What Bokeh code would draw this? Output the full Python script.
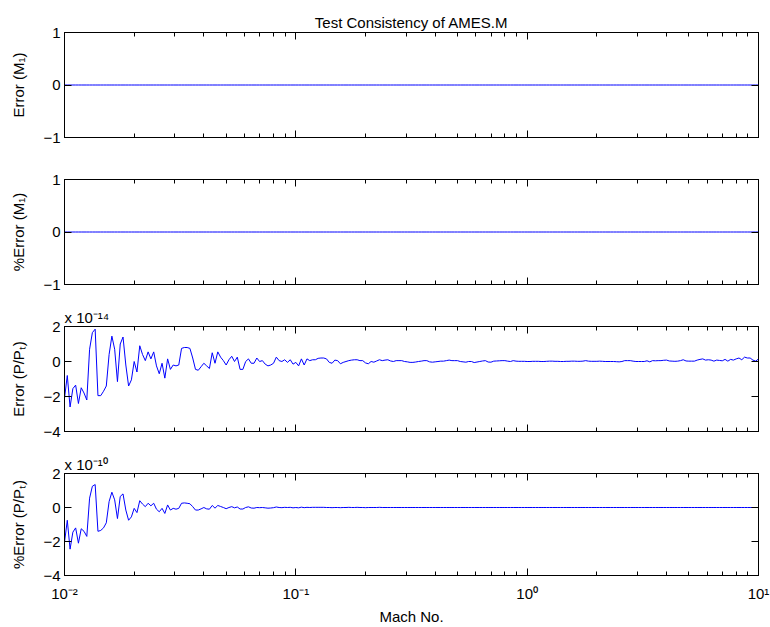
import numpy as np
from bokeh.plotting import figure
from bokeh.layouts import column
from bokeh.models import (Range1d, FixedTicker, LinearAxis, LogAxis,
                          CustomJSTickFormatter, ColumnDataSource)
from bokeh.embed import file_html
from bokeh.resources import INLINE

FONT = "Liberation Sans"

# ---------------- data ----------------
N_POINTS = 250
mach = np.logspace(-2, 1, N_POINTS)          # Mach number sampling grid

# Error (P/Pt), in units of 1e-14
err_ppt = [
    -2.1, -0.8, -2.6, -1.55, -1.35, -2.4, -1.5, -1.8, -2.2, 0.7,
    1.65, 1.85, -1.95, -1.95, -1.7, -1.4, 0.4, 1.45, 0.7, -1.15,
    1.0, 1.4, -0.2, -1.4, -1.05, 0.0, -0.6, 0.9, 0.4, 0.05,
    0.55, 0.15, 0.55, -0.25, -0.7, -0.1, -0.95, 0.15, -0.45, -0.2,
    -0.25, -0.2, 0.75, 0.8, 0.8, 0.75, 0.2, -0.45, -0.5, -0.3,
    -0.1, -0.25, -0.4, 0.5, -0.1, 0.55, 0.25, 0.05, -0.2, 0.1,
    0.3, 0.0, 0.25, -0.45, -0.45, 0.0, 0.15, -0.1, -0.1, 0.2,
    0.0, 0.05, -0.15, -0.25, -0.2, -0.1, 0.25, 0.05, 0.0, 0.1,
    -0.05, 0.1, -0.15, -0.05, -0.25, 0.15, -0.2, 0.15, 0.05, 0.1,
    0.1, 0.18, 0.2, 0.2, 0.15, -0.05, -0.1, 0.08, 0.05, -0.13,
    -0.05, 0.0, 0.05, 0.08, 0.1, 0.1, 0.05, 0.05, -0.08, -0.13,
    0.0, -0.04, 0.03, 0.1, 0.05, 0.08, 0.1, 0.03, 0.0, 0.05,
    0.05, 0.05, 0.0, -0.02, -0.05, -0.05, -0.03, 0.0, 0.02, 0.05,
    0.05, -0.02, -0.04, -0.02, 0.0, 0.02, 0.02, 0.05, 0.08, 0.05,
    0.05, 0.05, 0.0, -0.02, -0.04, 0.0, 0.0, -0.06, -0.03, 0.0,
    0.03, 0.05, -0.03, -0.04, 0.02, 0.03, 0.04, 0.05, 0.05, 0.02,
    0.0, 0.05, 0.02, 0.01, 0.01, 0.01, 0.0, 0.0, 0.01, 0.01,
    0.01, 0.0, 0.0, 0.01, 0.02, 0.02, 0.01, 0.01, 0.0, 0.0,
    0.01, 0.01, 0.02, 0.02, 0.01, 0.01, 0.02, 0.05, 0.02, 0.01,
    0.01, 0.01, 0.02, 0.01, 0.0, 0.0, 0.0, 0.0, -0.01, -0.02,
    0.0, 0.05, 0.05, 0.05, 0.02, 0.0, 0.0, 0.0, 0.0, 0.04,
    -0.02, 0.05, 0.04, 0.05, 0.05, 0.07, 0.08, 0.03, 0.02, 0.01,
    0.02, 0.05, 0.1, 0.03, 0.02, 0.02, 0.02, 0.08, 0.12, 0.15,
    0.08, 0.1, 0.08, 0.02, 0.08, 0.06, 0.04, 0.12, 0.02, 0.12,
    0.08, 0.15, 0.2, 0.1, 0.25, 0.2, 0.2, 0.08, 0.02, 0.15,
]

# %Error (P/Pt), in units of 1e-10
pct_err_ppt = [
    -2.05, -0.75, -2.45, -1.45, -1.2, -2.1, -1.25, -1.4, -1.7, 0.55,
    1.25, 1.35, -1.4, -1.35, -1.2, -0.9, 0.35, 0.9, 0.45, -0.65,
    0.65, 0.8, -0.15, -0.75, -0.55, -0.05, -0.3, 0.4, 0.2, 0.05,
    0.25, 0.1, 0.25, -0.1, -0.25, -0.05, -0.35, 0.15, -0.15, -0.05,
    -0.1, -0.05, 0.25, 0.27, 0.25, 0.22, 0.05, -0.15, -0.15, -0.08,
    0.0, -0.08, -0.1, 0.12, -0.04, 0.12, 0.06, 0.0, -0.07, 0.0,
    0.05, -0.02, 0.03, -0.09, -0.09, 0.0, 0.04, -0.03, -0.04, 0.0,
    -0.01, 0.0, -0.02, -0.04, -0.03, -0.01, 0.03, 0.0, -0.01, 0.01,
    0.0, 0.01, -0.02, 0.0, -0.02, 0.02, -0.01, 0.01, 0.0, 0.01,
    0.01, 0.01, 0.01, 0.01, 0.0, 0.0, -0.01, 0.0, 0.0, -0.01,
    0.0, 0.0, 0.01, 0.0, 0.0, 0.01, 0.0, 0.0, -0.01, 0.0,
    0.0, 0.0, 0.0, 0.01, 0.0, 0.0, 0.0, 0.0, 0.0, 0.0,
    0.0, 0.0, 0.0, 0.0, 0.0, 0.0, 0.0, 0.0, 0.0, 0.0,
    0.0, 0.0, 0.0, 0.0, 0.0, 0.0, 0.0, 0.0, 0.0, 0.0,
    0.0, 0.0, 0.0, 0.0, 0.0, 0.0, 0.0, 0.0, 0.0, 0.0,
    0.0, 0.0, 0.0, 0.0, 0.0, 0.0, 0.0, 0.0, 0.0, 0.0,
    0.0, 0.0, 0.0, 0.0, 0.0, 0.0, 0.0, 0.0, 0.0, 0.0,
    0.0, 0.0, 0.0, 0.0, 0.0, 0.0, 0.0, 0.0, 0.0, 0.0,
    0.0, 0.0, 0.0, 0.0, 0.0, 0.0, 0.0, 0.0, 0.0, 0.0,
    0.0, 0.0, 0.0, 0.0, 0.0, 0.0, 0.0, 0.0, 0.0, 0.0,
    0.0, 0.0, 0.0, 0.0, 0.0, 0.0, 0.0, 0.0, 0.0, 0.0,
    0.0, 0.0, 0.0, 0.0, 0.0, 0.0, 0.0, 0.0, 0.0, 0.0,
    0.0, 0.0, 0.0, 0.0, 0.0, 0.0, 0.0, 0.0, 0.0, 0.0,
    0.0, 0.0, 0.0, 0.0, 0.0, 0.0, 0.0, 0.0, 0.0, 0.0,
    0.0, 0.0, 0.0, 0.0, 0.0, 0.0, 0.0, 0.0, 0.0, 0.0,
]

# Error (M1) and %Error (M1) are identically zero in the reference
err_m1 = [0.0] * N_POINTS
pct_err_m1 = [0.0] * N_POINTS

x_major_ticks = [0.01, 0.1, 1.0, 10.0]
x_tick_labels = ["10\u207b\u00b2", "10\u207b\u00b9", "10\u2070", "10\u00b9"]
x_minor_ticks = [k * d for d in (0.01, 0.1, 1.0) for k in range(2, 10)]

y_ticks_m1 = [-1, 0, 1]
y_labels_m1 = ["\u22121", "0", "1"]
y_ticks_ppt = [-4, -2, 0, 2]
y_labels_ppt = ["\u22124", "\u22122", "0", "2"]

title_text = "Test Consistency of AMES.M"
x_label = "Mach No."
y_label_texts = ["Error (M\u2081)", "%Error (M\u2081)", "Error (P/P\u209c)", "%Error (P/P\u209c)"]
multipliers = [None, None, "x 10\u207b\u00b9\u2074", "x 10\u207b\u00b9\u2070"]

# ---------------- plotting ----------------
W = 770
FRAME_H = 105
LEFT, RIGHT = 64, 12

fmt_code = """
let best = -1, bd = 1e9;
for (let i = 0; i < tvals.length; i++) {
  const d = Math.abs(tvals[i] - tick) / Math.max(Math.abs(tvals[i]), 1e-12);
  if (d < bd) { bd = d; best = i; }
}
return (best >= 0 && bd < 1e-6) ? tlabels[best] : "";
"""
fmt_code_lin = """
for (let i = 0; i < tvals.length; i++) {
  if (Math.abs(tvals[i] - tick) < 1e-9) return tlabels[i];
}
return "";
"""


def style_axis(ax, major_in=7, minor_in=4, show_labels=False):
    ax.axis_line_color = "black"
    ax.axis_line_width = 1
    ax.major_tick_line_color = "black"
    ax.minor_tick_line_color = "black"
    ax.major_tick_in = major_in
    ax.major_tick_out = 0
    ax.minor_tick_in = minor_in
    ax.minor_tick_out = 0
    ax.major_label_text_font = FONT
    ax.major_label_text_color = "black"
    ax.axis_label_text_font = FONT
    ax.axis_label_text_font_style = "normal"
    ax.axis_label_text_color = "black"
    if not show_labels:
        ax.formatter = CustomJSTickFormatter(code="return '';")
        ax.major_label_standoff = 0


def make_panel(y_vals, ylabel, yticks, ylabels, yrange, top, bottom,
               title=None, show_x=False, mult=None):
    h = top + FRAME_H + bottom
    p = figure(width=W, height=h, x_axis_type="log",
               x_range=Range1d(0.01, 10), y_range=Range1d(*yrange),
               output_backend="svg", toolbar_location=None,
               min_border_left=LEFT, min_border_right=RIGHT,
               min_border_top=top, min_border_bottom=bottom)
    p.grid.visible = False
    p.outline_line_color = "black"
    p.outline_line_width = 1
    p.background_fill_color = "white"
    p.border_fill_color = "white"

    src = ColumnDataSource(dict(x=list(mach), y=list(y_vals)))
    p.line("x", "y", source=src, line_color="#0000ff", line_width=1)

    xt = FixedTicker(ticks=x_major_ticks, minor_ticks=x_minor_ticks)
    yt = FixedTicker(ticks=yticks, minor_ticks=[])

    # bottom axis
    xa = p.xaxis[0]
    xa.ticker = xt
    style_axis(xa, show_labels=show_x)
    if show_x:
        xa.formatter = CustomJSTickFormatter(
            args=dict(tvals=x_major_ticks, tlabels=x_tick_labels), code=fmt_code)
        xa.major_label_text_font_size = "15px"
        xa.major_label_standoff = 9
        xa.axis_label = x_label
        xa.axis_label_text_font_size = "15px"
        xa.axis_label_standoff = 3

    # left axis
    ya = p.yaxis[0]
    ya.ticker = yt
    ya.formatter = CustomJSTickFormatter(
        args=dict(tvals=yticks, tlabels=ylabels), code=fmt_code_lin)
    style_axis(ya, show_labels=True)
    ya.major_label_text_font_size = "15px"
    ya.major_label_standoff = 4
    ya.axis_label = ylabel
    ya.axis_label_text_font_size = "15px"
    ya.axis_label_standoff = 13

    # mirrored top / right axes (ticks only)
    top_ax = LogAxis(ticker=xt)
    style_axis(top_ax)
    p.add_layout(top_ax, "above")
    right_ax = LinearAxis(ticker=yt)
    style_axis(right_ax)
    p.add_layout(right_ax, "right")

    if title:
        p.title.text = title
        p.title.align = "center"
        p.title.text_font = FONT
        p.title.text_font_size = "15px"
        p.title.text_font_style = "normal"
        p.title.text_color = "black"
        p.title.standoff = 4

    if mult:
        p.title.text = mult
        p.title.align = "left"
        p.title.text_font = FONT
        p.title.text_font_size = "15px"
        p.title.text_font_style = "normal"
        p.title.text_color = "black"
        p.title.standoff = 2
    return p


p1 = make_panel(err_m1, y_label_texts[0], y_ticks_m1, y_labels_m1, (-1, 1),
                top=32, bottom=21, title=title_text)
p2 = make_panel(pct_err_m1, y_label_texts[1], y_ticks_m1, y_labels_m1, (-1, 1),
                top=21, bottom=21)
p3 = make_panel(err_ppt, y_label_texts[2], y_ticks_ppt, y_labels_ppt, (-4, 2),
                top=21, bottom=21, mult=multipliers[2])
p4 = make_panel(pct_err_ppt, y_label_texts[3], y_ticks_ppt, y_labels_ppt, (-4, 2),
                top=21, bottom=49, show_x=True, mult=multipliers[3])

layout = column(p1, p2, p3, p4, spacing=0)

with open("out.html", "w") as f:
    f.write(file_html(layout, INLINE))
